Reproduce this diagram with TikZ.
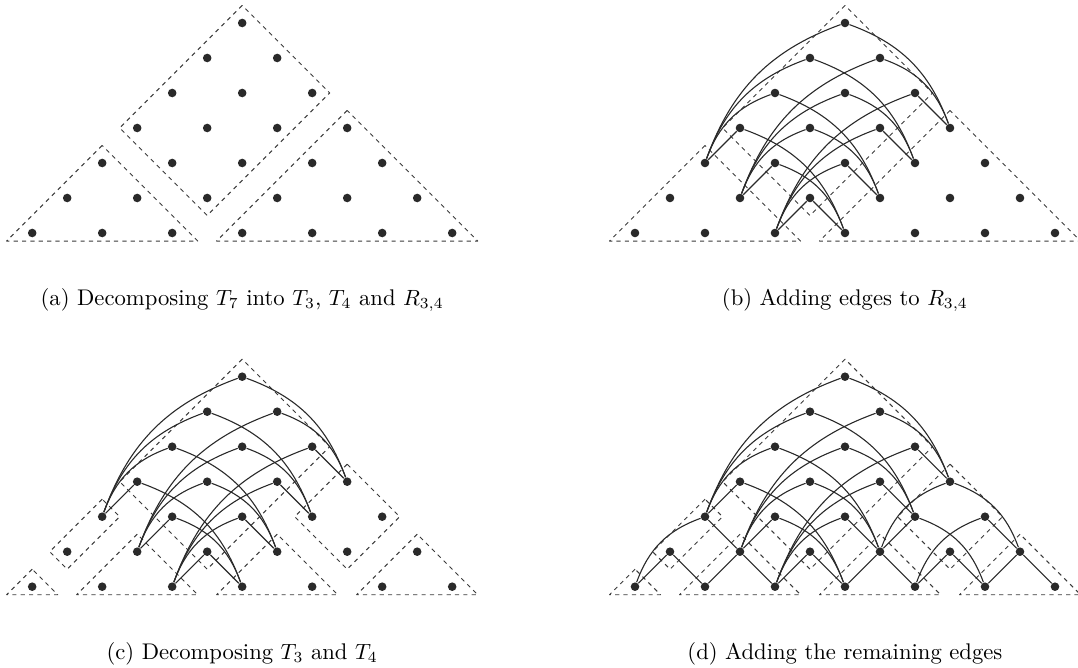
\documentclass[tikz,border=0pt]{standalone}
\usetikzlibrary{calc}
\newcommand{\Unit}{15.909pt}
\newcommand{\Bend}{25}
\definecolor{ink}{HTML}{2A2A2A}
\definecolor{frame}{HTML}{3A3A3A}

\tikzset{
  dot/.style={circle, fill=ink, inner sep=0pt, minimum size=3.9pt},
  edge/.style={ink, line width=0.5pt},
  part/.style={frame, line width=0.45pt, dash pattern=on 1.9pt off 1.9pt},
  captext/.style={anchor=base, font=\fontsize{10.3pt}{12pt}\selectfont},
}

% ---- the 28 dots of T7, named <panel>-a-b ------------------------------
\newcommand{\Dots}[1]{%
  \foreach \i in {0,...,6} {
    \foreach \k in {0,...,\i} {
      \pgfmathtruncatemacro\da{\i-\k}
      \node[dot] (#1-\da-\k) at ({2*\k-\i},-\i) {};
    }
  }}

% ---- dashed triangle T_n, top dot (a0,b0) --------------------------------
\newcommand{\Tpart}[4]{%
  \pgfmathtruncatemacro\tpa{#2+#4-1}
  \pgfmathtruncatemacro\tpb{#3+#4-1}
  \draw[part] ($(#1-#2-#3)+(0,0.5)$) -- ($(#1-\tpa-#3)+(-0.73,-0.23)$)
    -- ($(#1-#2-\tpb)+(0.73,-0.23)$) -- cycle;}

% ---- dashed rectangle R_{B,A}, top dot (a0,b0) ---------------------------
\newcommand{\Rpart}[5]{%
  \pgfmathtruncatemacro\rpa{#2+#4-1}
  \pgfmathtruncatemacro\rpb{#3+#5-1}
  \draw[part] ($(#1-#2-#3)+(0,0.5)$) -- ($(#1-\rpa-#3)+(-0.5,0)$)
    -- ($(#1-\rpa-\rpb)+(0,-0.5)$) -- ($(#1-#2-\rpb)+(0.5,0)$) -- cycle;}

% ---- edges of a rectangle: each dot to both triangles below it ----------
\newcommand{\Redges}[5]{%
  \foreach \i in {1,...,#4} {
    \foreach \j in {1,...,#5} {
      \pgfmathtruncatemacro\ea{#2+\i-1}
      \pgfmathtruncatemacro\eb{#3+\j-1}
      \pgfmathtruncatemacro\ela{#2+#4}
      \pgfmathtruncatemacro\erb{#3+#5}
      \ifnum\i=#4
        \draw[edge] (#1-\ea-\eb) -- (#1-\ela-\eb);
      \else
        \draw[edge] (#1-\ea-\eb) to[bend right=\Bend] (#1-\ela-\eb);
      \fi
      \ifnum\j=#5
        \draw[edge] (#1-\ea-\eb) -- (#1-\ea-\erb);
      \else
        \draw[edge] (#1-\ea-\eb) to[bend left=\Bend] (#1-\ea-\erb);
      \fi
    }
  }}

\begin{document}
\begin{tikzpicture}[x=\Unit, y=\Unit, line join=round]
  \useasboundingbox (0,0) rectangle (30.8,-19.086);

  % ---- (a) T7 cut into T3, T4 and R34 -------------------------------------
  \begin{scope}[shift={(6.92,-0.657)}] \Dots{a} \end{scope}
  \Rpart{a}{0}{0}{4}{3}
  \Tpart{a}{4}{0}{3}
  \Tpart{a}{0}{3}{4}
  \node[captext] (capa) at (6.92,-8.72) {(a) Decomposing $T_7$ into $T_3$, $T_4$ and $R_{3,4}$};

  % ---- (b) edges of R34 ----------------------------------------------------
  \begin{scope}[shift={(24.143,-0.657)}] \Dots{b} \end{scope}
  \Rpart{b}{0}{0}{4}{3}
  \Tpart{b}{4}{0}{3}
  \Tpart{b}{0}{3}{4}
  \Redges{b}{0}{0}{4}{3}
  \node[captext] (capb) at (24.14,-8.72) {(b) Adding edges to $R_{3,4}$};

  % ---- (c) T3 and T4 cut again --------------------------------------------
  \begin{scope}[shift={(6.92,-10.763)}] \Dots{c} \end{scope}
  \Rpart{c}{0}{0}{4}{3}
  \Rpart{c}{4}{0}{2}{1} \Tpart{c}{6}{0}{1} \Tpart{c}{4}{1}{2}
  \Rpart{c}{0}{3}{2}{2} \Tpart{c}{2}{3}{2} \Tpart{c}{0}{5}{2}
  \Redges{c}{0}{0}{4}{3}
  \node[captext] (capc) at (6.92,-18.83) {(c) Decomposing $T_3$ and $T_4$};

  % ---- (d) all remaining edges --------------------------------------------
  \begin{scope}[shift={(24.143,-10.763)}] \Dots{d} \end{scope}
  \Rpart{d}{0}{0}{4}{3}
  \Rpart{d}{4}{0}{2}{1} \Tpart{d}{6}{0}{1} \Tpart{d}{4}{1}{2}
  \Rpart{d}{0}{3}{2}{2} \Tpart{d}{2}{3}{2} \Tpart{d}{0}{5}{2}
  \Redges{d}{0}{0}{4}{3}
  \Redges{d}{4}{0}{2}{1}
  \Redges{d}{4}{1}{1}{1}
  \Redges{d}{0}{3}{2}{2}
  \Redges{d}{2}{3}{1}{1}
  \Redges{d}{0}{5}{1}{1}
  \node[captext] (capd) at (24.14,-18.83) {(d) Adding the remaining edges};
\end{tikzpicture}
\end{document}
